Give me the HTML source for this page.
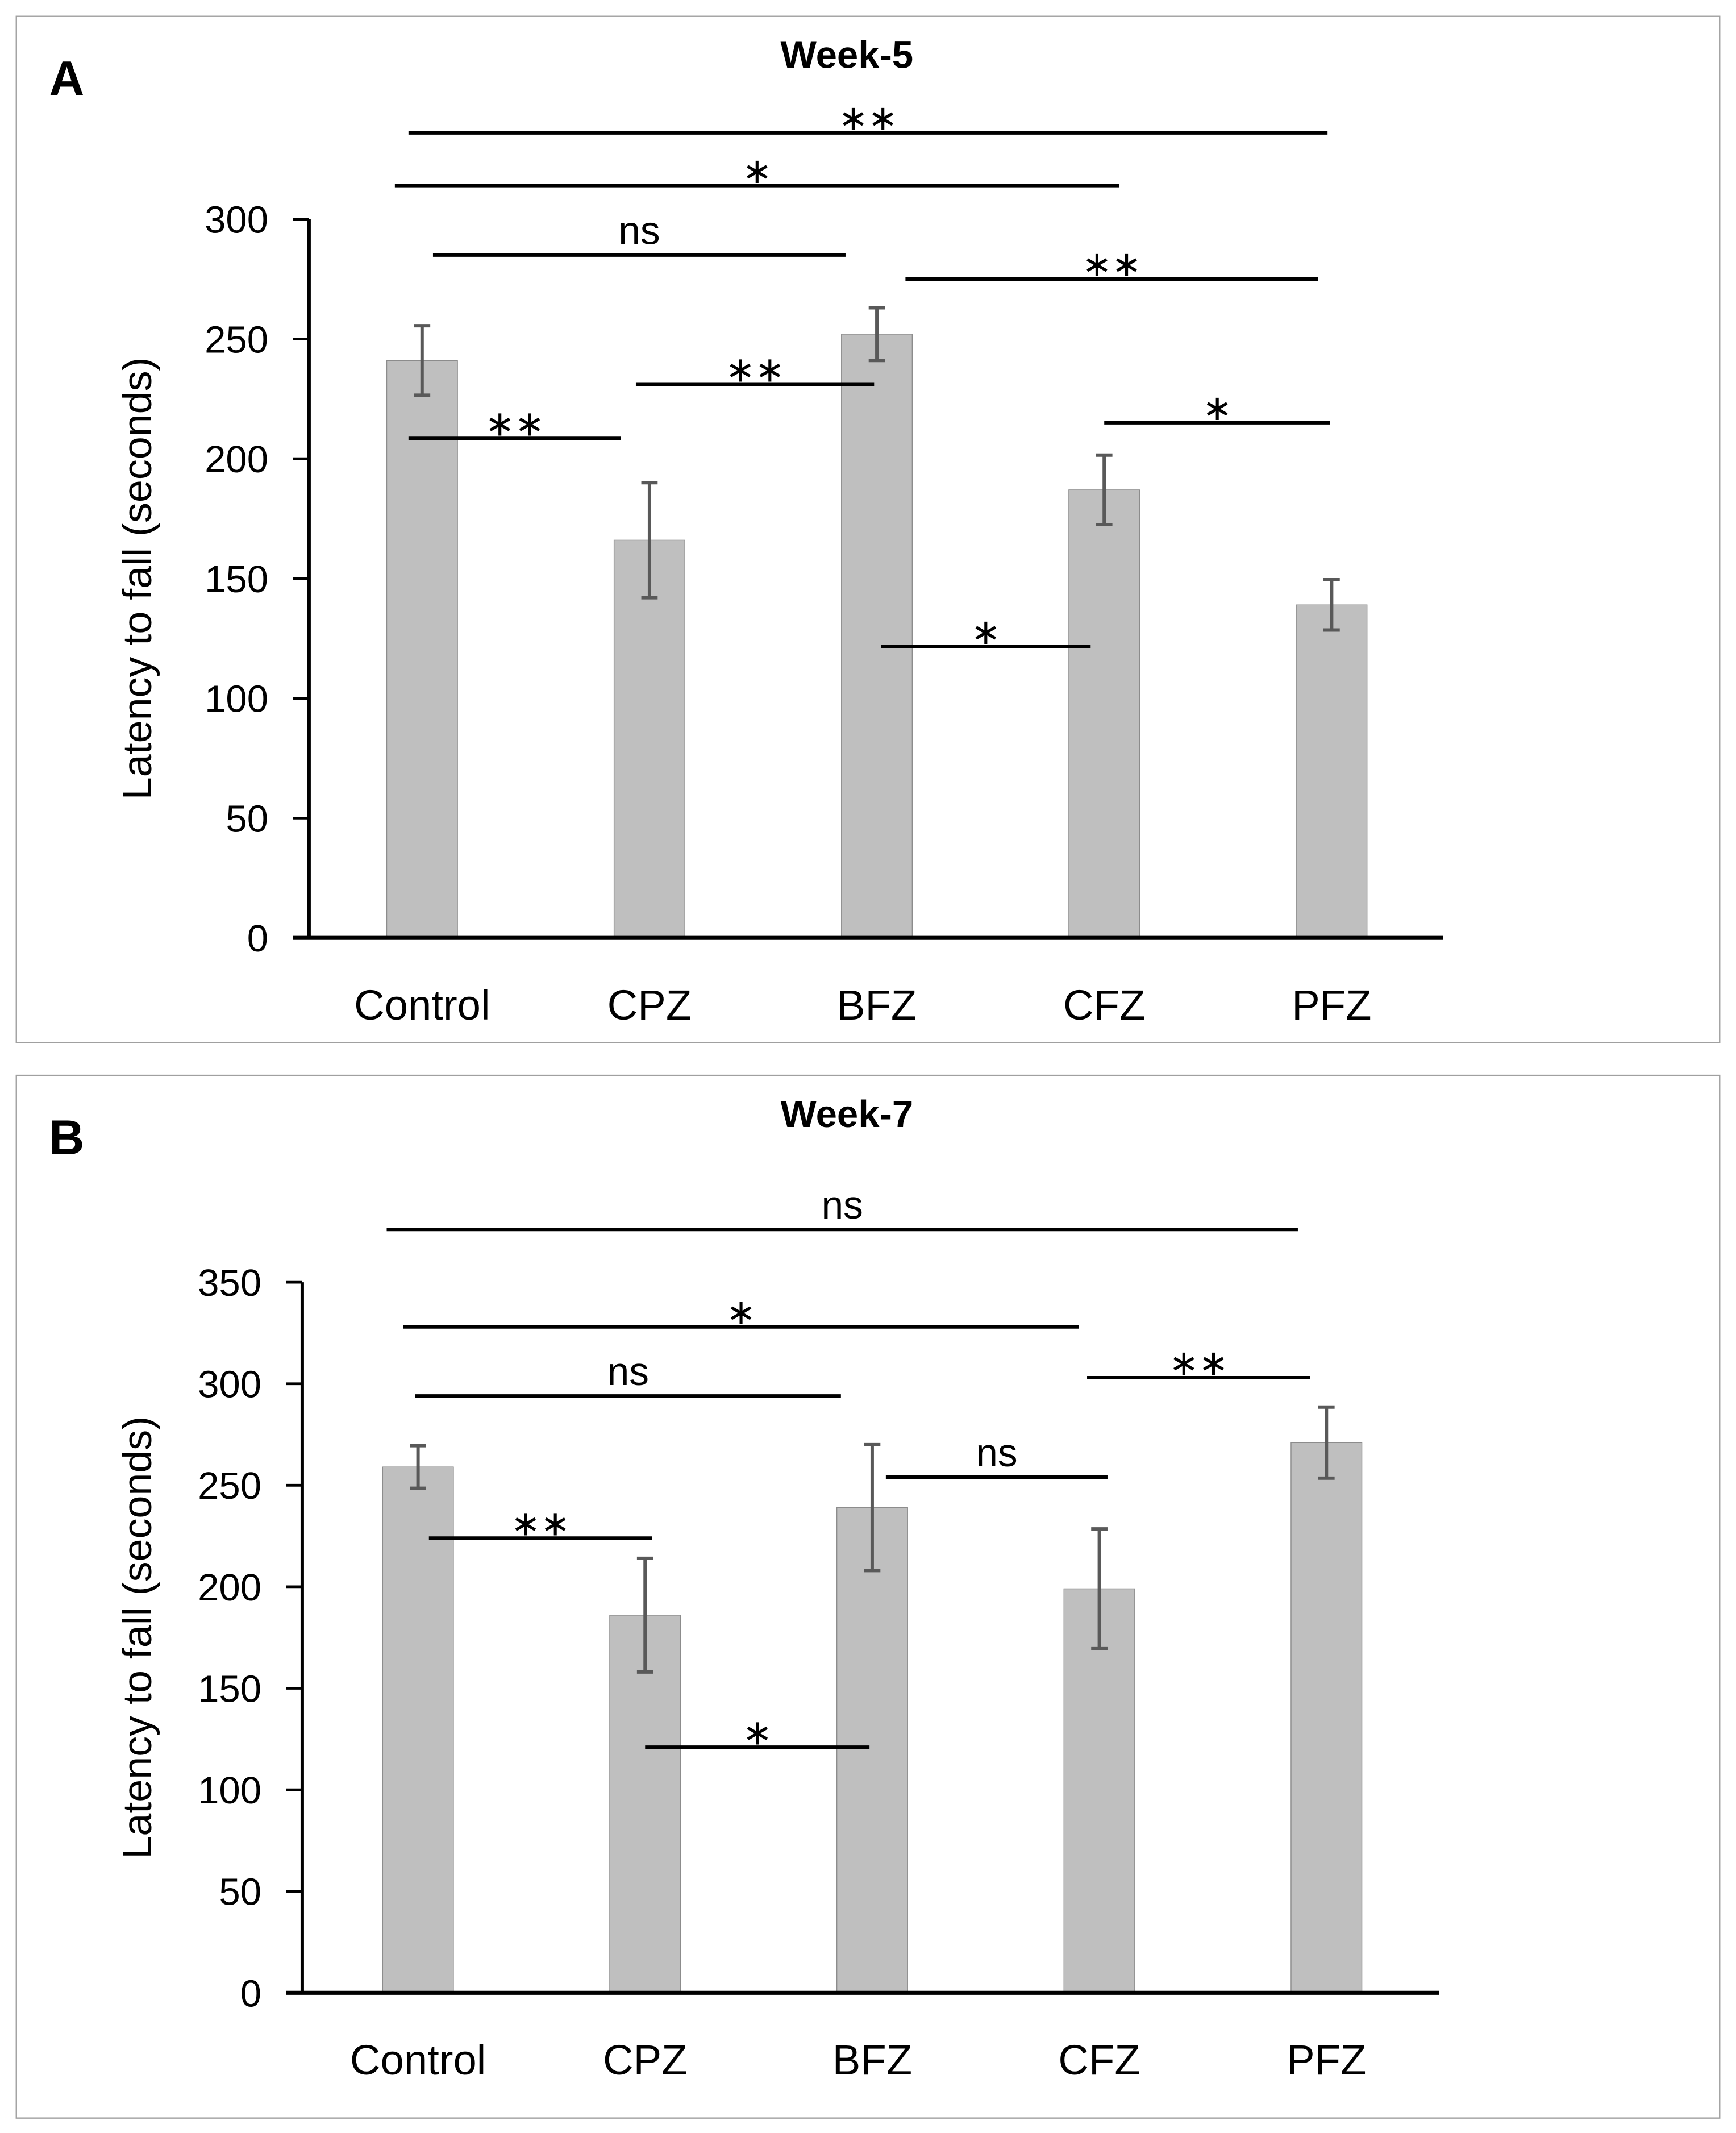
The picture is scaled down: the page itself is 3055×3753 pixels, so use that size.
<!DOCTYPE html>
<html><head><meta charset="utf-8">
<style>
html,body{margin:0;padding:0;background:#fff;}
svg{display:block;}
text{font-family:"Liberation Sans",sans-serif;fill:#000;}
</style></head>
<body>
<svg id="chart" width="3055" height="3753" viewBox="0 0 1275 1567" preserveAspectRatio="none" xmlns="http://www.w3.org/2000/svg"></svg>
<script>
const categories = ["Control","CPZ","BFZ","CFZ","PFZ"];
const week5Values = [241,166,252,187,139];
const week5Errors = [14.5,24,11,14.5,10.5];
const week5Ticks = [0,50,100,150,200,250,300];
const week5Sig = [[0,4,336,"**"],[0,3,314,"*"],[0,2,285,"ns"],[2,4,275,"**"],[1,2,231,"**"],[0,1,208.5,"**"],[3,4,215,"*"],[2,3,121.6,"*"]];
const week7Values = [259,186,239,199,271];
const week7Errors = [10.5,28,31,29.5,17.5];
const week7Ticks = [0,50,100,150,200,250,300,350];
const week7Sig = [[0,4,376,"ns"],[0,3,328,"*"],[0,2,294,"ns"],[3,4,303,"**"],[2,3,254,"ns"],[0,1,224,"**"],[1,2,121,"*"]];

const NS="http://www.w3.org/2000/svg";
const svg=document.getElementById('chart');
function mk(tag,attrs,parent,txt){const e=document.createElementNS(NS,tag);for(const k in attrs)e.setAttribute(k,attrs[k]);if(txt!==undefined)e.textContent=txt;(parent||svg).appendChild(e);return e;}

function panel(cfg){
  const g=mk('g',{});
  
  
  const box=mk('rect',{x:12,y:cfg.boxTop,width:1251,height:cfg.boxH,fill:'none',stroke:'#a0a0a0','stroke-width':1},g);
  
  const letter=mk('text',{x:36,y:cfg.boxTop+58,'font-size':36,'font-weight':'bold'},g,cfg.letter);
  
  const title=mk('text',{x:622,y:cfg.boxTop+38,'font-size':28,'font-weight':'bold','text-anchor':'middle'},g,cfg.title);
  
  const y0=cfg.y0, ymaxPx=cfg.yTop, maxV=cfg.ticks[cfg.ticks.length-1];
  const yS=v=>y0-(v/maxV)*(y0-ymaxPx);
  const xC=i=>cfg.x0+i*cfg.step;
  cfg.values.forEach((v,i)=>{
    const b=mk('rect',{x:xC(i)-26,y:yS(v),width:52,height:y0-yS(v),fill:'#bfbfbf',stroke:'#8c8c8c','stroke-width':0.6},g);
    
    
    const e=cfg.errors[i];
    const eg=mk('g',{stroke:'#595959','stroke-width':2.5},g);
    
    
    mk('line',{x1:xC(i),x2:xC(i),y1:yS(v-e),y2:yS(v+e)},eg);
    mk('line',{x1:xC(i)-6,x2:xC(i)+6,y1:yS(v-e),y2:yS(v-e)},eg);
    mk('line',{x1:xC(i)-6,x2:xC(i)+6,y1:yS(v+e),y2:yS(v+e)},eg);
  });
  const ya=mk('line',{x1:cfg.axX,x2:cfg.axX,y1:ymaxPx,y2:y0,stroke:'#000','stroke-width':2.5},g);
  
  const xa=mk('line',{x1:cfg.axX-12,x2:cfg.axEnd,y1:y0,y2:y0,stroke:'#000','stroke-width':3},g);
  
  cfg.ticks.forEach(t=>{
    mk('line',{x1:cfg.axX-12,x2:cfg.axX,y1:yS(t),y2:yS(t),stroke:'#000','stroke-width':2},g);
    const tl=mk('text',{x:cfg.axX-30,y:yS(t)+10,'font-size':28,'text-anchor':'end'},g,t);
    
  });
  categories.forEach((c,i)=>{
    const cl=mk('text',{x:xC(i),y:y0+60,'font-size':31,'text-anchor':'middle'},g,c);
    
  });
  const yt=mk('text',{x:0,y:0,'font-size':30,'text-anchor':'middle',transform:`translate(111,${(y0+ymaxPx)/2}) rotate(-90)`},g,'Latency to fall (seconds)');
  
  cfg.sig.forEach((s,k)=>{
    const [a,b,v,lab]=s;const off=cfg.sigOff[k];
    const x1=xC(a)+off[0], x2=xC(b)+off[1], y=yS(v);
    const sg=mk('g',{},g);
    
    
    mk('line',{x1:x1,x2:x2,y1:y,y2:y,stroke:'#000','stroke-width':2.5},sg);
    mk('text',{x:(x1+x2)/2,y:y-(lab==='ns'?8:2),'font-size':lab==='ns'?29:26,'text-anchor':'middle'},sg,lab==='**'?'∗∗':(lab==='*'?'∗':lab));
  });
}
panel({name:'panel-a-week-5',letter:'A',title:'Week-5',boxTop:12,boxH:754,y0:689,yTop:161,x0:310,step:167,axX:227,axEnd:1060,
  ticks:week5Ticks,values:week5Values,errors:week5Errors,sig:week5Sig,
  sigOff:[[-10,-3],[-20,11],[8,-23],[21,-10],[-10,-2],[-10,-21],[0,-1],[3,-10]]});
panel({name:'panel-b-week-7',letter:'B',title:'Week-7',boxTop:790,boxH:766,y0:1464,yTop:942,x0:307,step:166.8,axX:222,axEnd:1057,
  ticks:week7Ticks,values:week7Values,errors:week7Errors,sig:week7Sig,
  sigOff:[[-23,-21],[-11,-15],[-2,-23],[-9,-12],[10,6],[8,5],[0,-2]]});
</script>
</body></html>
